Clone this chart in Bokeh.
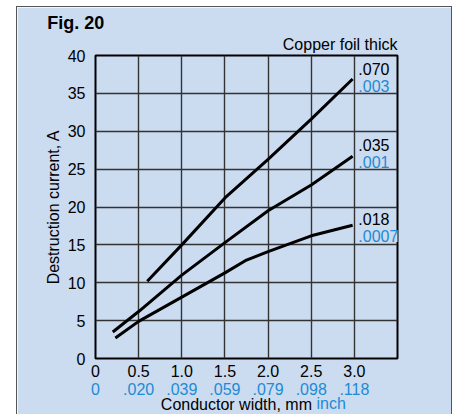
from bokeh.plotting import figure
from bokeh.models import Range1d, FixedTicker, LinearAxis, Label, Title
from bokeh.embed import file_html
from bokeh.resources import INLINE

# ---- data ----
mm_ticks = [0.0, 0.5, 1.0, 1.5, 2.0, 2.5, 3.0]
mm_labels = ["0", "0.5", "1.0", "1.5", "2.0", "2.5", "3.0"]
inch_labels = ["0", ".020", ".039", ".059", ".079", ".098", ".118"]
current_ticks = [0, 5, 10, 15, 20, 25, 30, 35, 40]

foil070_x = [0.6, 1.0, 1.5, 2.0, 2.5, 2.98]
foil070_y = [10.2, 15.0, 21.2, 26.3, 31.6, 36.9]

foil035_x = [0.2, 0.5, 1.0, 1.5, 2.0, 2.5, 2.98]
foil035_y = [3.5, 6.2, 11.0, 15.3, 19.5, 22.9, 26.7]

foil018_x = [0.23, 0.5, 1.0, 1.5, 1.75, 2.0, 2.5, 2.98]
foil018_y = [2.7, 4.9, 8.1, 11.3, 13.0, 14.1, 16.2, 17.6]

foil_mm = [".070", ".035", ".018"]
foil_inch = [".003", ".001", ".0007"]
foil_mm_y = [38.24, 28.12, 18.39]
foil_inch_y = [36.0, 25.98, 16.16]

# ---- style ----
BG = "#cbdbf0"
BLUE = "#1e8bd4"
FONT = "Liberation Sans"

p = figure(width=436, height=408,
           x_range=Range1d(0, 3.5), y_range=Range1d(0, 40),
           output_backend="svg", toolbar_location=None,
           min_border_left=78, min_border_right=56,
           min_border_top=48, min_border_bottom=57,
           background_fill_color=BG, border_fill_color=BG,
           outline_line_color="black", outline_line_width=2,
           margin=(6, 0, 0, 16),
           styles={"border": "1px solid #555555", "border-bottom": "none"})

# grids
p.xgrid.ticker = FixedTicker(ticks=mm_ticks)
p.ygrid.ticker = FixedTicker(ticks=current_ticks)
for g in (p.xgrid[0], p.ygrid[0]):
    g.grid_line_color = "#333333"
    g.grid_line_width = 1.4

# y axis
ya = p.yaxis[0]
ya.ticker = FixedTicker(ticks=current_ticks)
ya.axis_line_color = None
ya.major_tick_line_color = None
ya.minor_tick_line_color = None
ya.major_label_text_font = FONT
ya.major_label_text_font_size = "16px"
ya.major_label_text_color = "black"
ya.major_label_standoff = 4
ya.axis_label = "Destruction current, A"
ya.axis_label_text_font = FONT
ya.axis_label_text_font_size = "16px"
ya.axis_label_text_font_style = "normal"
ya.axis_label_text_color = "black"
ya.axis_label_standoff = 3

# x axis (mm)
xa = p.xaxis[0]
xa.ticker = FixedTicker(ticks=mm_ticks)
xa.major_label_overrides = dict(zip(mm_ticks, mm_labels))
xa.axis_line_color = None
xa.major_tick_line_color = None
xa.minor_tick_line_color = None
xa.major_label_text_font = FONT
xa.major_label_text_font_size = "16px"
xa.major_label_text_color = "black"
xa.major_label_standoff = 0

# x axis (inch)
xb = LinearAxis(ticker=FixedTicker(ticks=mm_ticks))
xb.major_label_overrides = dict(zip(mm_ticks, inch_labels))
xb.axis_line_color = None
xb.major_tick_line_color = None
xb.minor_tick_line_color = None
xb.major_label_text_font = FONT
xb.major_label_text_font_size = "16px"
xb.major_label_text_color = BLUE
xb.major_label_standoff = -3
p.add_layout(xb, "below")

# x axis title: two titles sharing one line
p.add_layout(Title(text="Conductor width, mm", align="right", offset=85.5,
                   standoff=-6, vertical_align="middle",
                   text_font=FONT, text_font_size="16px", text_font_style="normal",
                   text_color="black"), "below")
p.add_layout(Title(text="inch", align="left", offset=221,
                   standoff=-32, vertical_align="top",
                   text_font=FONT, text_font_size="16px", text_font_style="normal",
                   text_color=BLUE), "below")

# titles above the frame
p.add_layout(Title(text="Copper foil thick", align="right", offset=0,
                   standoff=3, vertical_align="middle",
                   text_font=FONT, text_font_size="16px", text_font_style="normal",
                   text_color="black"), "above")
p.add_layout(Title(text="Fig. 20", align="left", offset=-48.3,
                   standoff=0, vertical_align="middle",
                   text_font=FONT, text_font_size="18px", text_font_style="bold",
                   text_color="black"), "above")

# curves
for xs, ys in ((foil070_x, foil070_y), (foil035_x, foil035_y), (foil018_x, foil018_y)):
    p.line(xs, ys, line_color="black", line_width=3)

# end labels
for t, y in zip(foil_mm, foil_mm_y):
    p.add_layout(Label(x=3.046, y=y, text=t, text_font=FONT, text_font_size="16px",
                       text_color="black", text_baseline="middle", text_align="left",
                       background_fill_color=BG))
for t, y in zip(foil_inch, foil_inch_y):
    p.add_layout(Label(x=3.046, y=y, text=t, text_font=FONT, text_font_size="16px",
                       text_color=BLUE, text_baseline="middle", text_align="left",
                       background_fill_color=BG))

open("out.html", "w").write(file_html(p, INLINE))
